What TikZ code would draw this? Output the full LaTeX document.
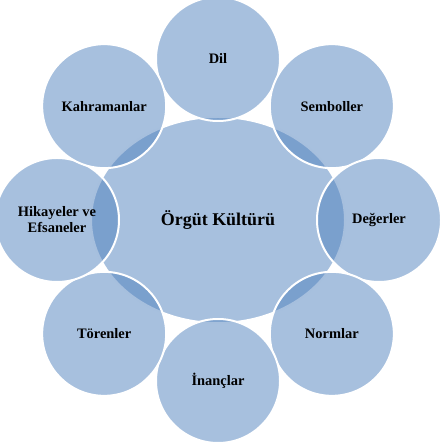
\documentclass[tikz,border=0pt]{standalone}
\usepackage{fontspec}
\setmainfont{Liberation Serif}
\usetikzlibrary{shapes.geometric}
\definecolor{accentblue}{HTML}{4F81BD}
\tikzset{
	core/.style={ellipse, draw=white, line width=2bp, fill=accentblue, fill opacity=0.5, text opacity=1,
		minimum width=254bp, minimum height=206bp, inner sep=0pt, font=\fontsize{18}{20}\selectfont\bfseries},
	petal/.style={circle, draw=white, line width=2bp, fill=accentblue, fill opacity=0.5, text opacity=1,
		minimum size=124bp, inner sep=0pt, align=center, font=\fontsize{14.5}{16}\selectfont\bfseries}
}
\begin{document}
\begin{tikzpicture}[x=1bp, y=1bp, line join=round, line cap=round]
			\useasboundingbox (0,0) rectangle (441,446);
			\path
			(218,226)coordinate(O)
			;
			\node[core] (kultur) at (O) {Örgüt Kültürü};
			\foreach \n/\a/\t in {dil/90/Dil, semboller/45/Semboller, degerler/0/Değerler, normlar/-45/Normlar,
				inanclar/-90/İnançlar, torenler/-135/Törenler, hikayeler/180/{Hikayeler ve\\Efsaneler}, kahramanlar/135/Kahramanlar}
				\node[petal] (\n) at ([shift={(\a:161)}]O) {\t};
			\end{tikzpicture}
\end{document}
